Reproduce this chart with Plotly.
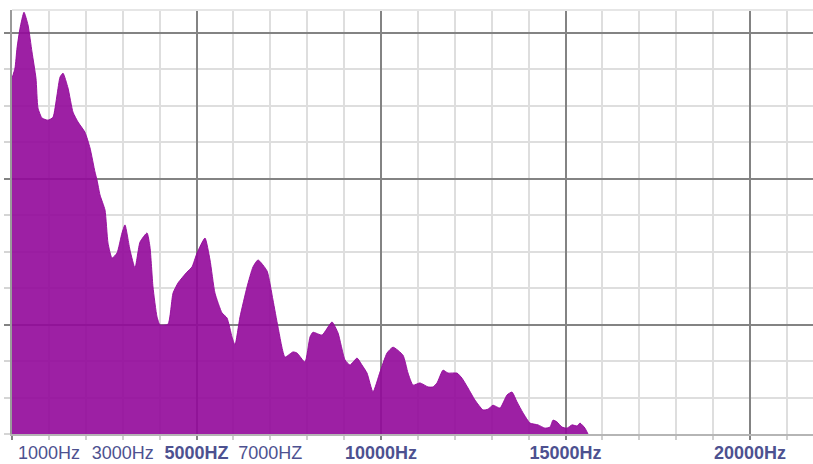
import plotly.graph_objects as go

# Spectrum samples: frequency (Hz) and level (grid units above the floor)
freq_hz = [0, 81, 136, 217, 325, 434, 542, 650, 705, 813, 976, 1111, 1220, 1301, 1382,
           1518, 1653, 1789, 1978, 2114, 2249, 2304, 2385, 2520, 2602, 2710, 2846, 2981,
           3062, 3198, 3333, 3469, 3659, 3740, 3821, 3930, 4011, 4228, 4363, 4499, 4743,
           4878, 5014, 5230, 5366, 5501, 5691, 5827, 5962, 6043, 6179, 6369, 6531, 6667,
           6911, 7073, 7209, 7398, 7615, 7724, 7940, 8076, 8157, 8401, 8672, 8835, 9024,
           9160, 9350, 9485, 9621, 9783, 9973, 10163, 10325, 10596, 10732, 10867, 11057,
           11274, 11409, 11518, 11680, 11816, 12060, 12195, 12358, 12547, 12764, 12900,
           13035, 13225, 13415, 13550, 13686, 13848, 14038, 14255, 14444, 14580, 14661,
           14770, 14905, 15041, 15176, 15312, 15393, 15528, 15610]
level = [9.75, 10.03, 10.58, 11.12, 11.56, 11.21, 10.47, 9.75, 8.93, 8.66, 8.60, 8.68, 9.29,
         9.78, 9.89, 9.48, 8.82, 8.55, 8.27, 7.84, 7.18, 6.96, 6.55, 6.14, 5.23, 4.82, 4.96,
         5.51, 5.73, 5.04, 4.55, 5.26, 5.51, 5.12, 4.03, 3.21, 2.99, 3.01, 3.86, 4.14, 4.44,
         4.58, 4.96, 5.37, 4.77, 3.86, 3.32, 3.18, 2.66, 2.44, 3.21, 4.03, 4.58, 4.77, 4.47,
         3.67, 2.93, 2.11, 2.25, 2.22, 1.97, 2.66, 2.79, 2.71, 3.07, 2.77, 2.03, 1.89, 2.08,
         1.89, 1.67, 1.15, 1.70, 2.22, 2.38, 2.16, 1.67, 1.34, 1.40, 1.29, 1.29, 1.40, 1.75,
         1.67, 1.67, 1.53, 1.26, 0.93, 0.66, 0.68, 0.79, 0.71, 1.07, 1.15, 0.88, 0.58, 0.30,
         0.25, 0.16, 0.19, 0.38, 0.33, 0.19, 0.16, 0.25, 0.22, 0.30, 0.16, 0.0]

# Axis labelling
major_freqs = [0, 5000, 10000, 15000, 20000]
label_freqs = [1000, 3000, 5000, 7000, 10000, 15000, 20000]
label_text = ["1000Hz", "3000Hz", "<b>5000HZ</b>", "7000HZ",
              "<b>10000Hz</b>", "<b>15000Hz</b>", "<b>20000Hz</b>"]
major_levels = [3, 7, 11]

x_range = [0, 21707]
y_range = [0, 11.62]

LIGHT = "#dedede"
DARK = "#838383"
FILL = "rgba(146,8,154,0.9)"

fig = go.Figure()
fig.add_trace(go.Scatter(
    x=freq_hz, y=level, mode="lines", fill="tozeroy",
    fillcolor=FILL, line=dict(color=FILL, width=1, shape="spline", smoothing=0.5),
    hoverinfo="skip", showlegend=False,
))
# Companion trace on the labelling axis
fig.add_trace(go.Scatter(
    x=freq_hz, y=level, xaxis="x2", mode="lines",
    line=dict(width=0, color="rgba(0,0,0,0)"),
    hoverinfo="skip", showlegend=False,
))

fig.update_layout(
    width=813, height=464,
    margin=dict(l=12, r=0, t=10, b=30, autoexpand=False),
    paper_bgcolor="white", plot_bgcolor="white",
    xaxis=dict(
        range=x_range, tickvals=major_freqs, showticklabels=False,
        showgrid=True, gridcolor=DARK, gridwidth=1.5,
        ticks="outside", ticklen=4, tickcolor=DARK, tickwidth=1.5,
        showline=True, linecolor="#b5b5b5", linewidth=1.5,
        zeroline=False, automargin=False,
        minor=dict(dtick=1000, tick0=0, showgrid=True, gridcolor=LIGHT, gridwidth=2,
                   ticks="outside", ticklen=4, tickcolor="#cfcfcf", tickwidth=1.5),
    ),
    xaxis2=dict(
        range=x_range, overlaying="x", side="bottom", anchor="y",
        tickvals=label_freqs, ticktext=label_text,
        showgrid=False, zeroline=False, showline=False, ticks="",
        ticklabelstandoff=6, automargin=False,
        tickfont=dict(family="Liberation Sans, Arial, sans-serif", size=18, color="#4d5190"),
    ),
    yaxis=dict(
        range=y_range, tickvals=major_levels, showticklabels=False,
        showgrid=True, gridcolor=DARK, gridwidth=1.5,
        ticks="outside", ticklen=6, tickcolor=DARK, tickwidth=1.5,
        showline=True, linecolor="#9a9a9a", linewidth=1.5,
        zeroline=False, automargin=False,
        minor=dict(dtick=1, tick0=0, showgrid=True, gridcolor=LIGHT, gridwidth=2,
                   ticks="outside", ticklen=6, tickcolor="#d5d5d5", tickwidth=1.5),
    ),
    shapes=[dict(type="line", xref="paper", yref="paper", x0=0, x1=1, y0=1, y1=1,
                 line=dict(color="#e6e6e6", width=2))],
)

fig.write_html("out.html", config={"displayModeBar": False})
